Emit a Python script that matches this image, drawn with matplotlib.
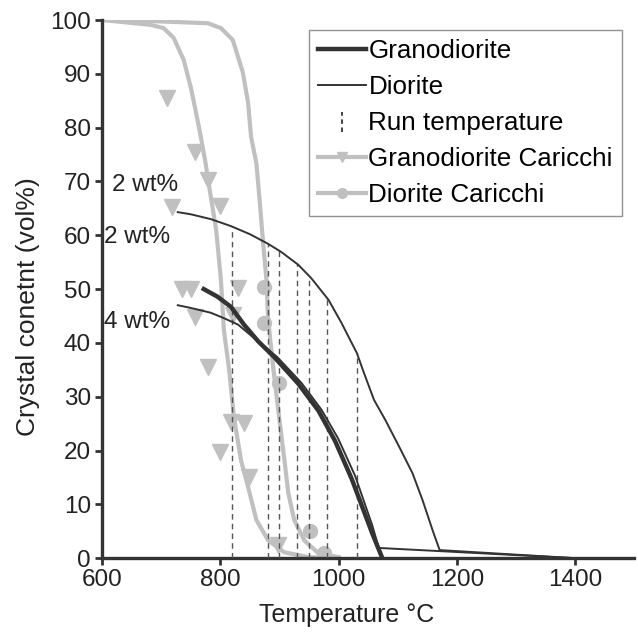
import numpy as np
import matplotlib
matplotlib.use("Agg")
import matplotlib.pyplot as plt
from matplotlib.lines import Line2D
from matplotlib.legend_handler import HandlerBase

# ---------------- data ----------------
grano_T = [772, 795, 818, 840, 864, 891, 932, 966, 994, 1022, 1057, 1074]
grano_C = [50.0, 48.6, 46.7, 43.4, 40.3, 37.4, 32.4, 27.4, 21.8, 14.8, 4.6, 0.0]

dior2_T = [728, 750, 784, 818, 850, 881, 903, 932, 954, 983, 1005, 1031, 1043,
           1060, 1079, 1103, 1125, 1142, 1159, 1171, 1400]
dior2_C = [64.3, 63.9, 63.0, 61.7, 60.2, 58.4, 56.9, 54.5, 52.0, 48.0, 43.7, 38.1, 34.4,
           29.4, 25.7, 20.6, 15.8, 10.8, 5.2, 1.5, 0.0]

dior4_T = [728, 750, 784, 806, 830, 857, 896, 937, 971, 999, 1028, 1057, 1068, 1400]
dior4_C = [47.0, 46.5, 45.6, 44.6, 43.4, 40.9, 37.4, 32.6, 27.6, 22.3, 15.3, 6.1, 1.9, 0.0]

run_T = [820, 881, 900, 930, 950, 981, 1031]

gc_T = [600, 682, 704, 721, 738, 750, 758, 767, 775, 784, 793, 801, 806, 815, 823,
        835, 847, 861, 881, 908, 949, 1000]
gc_C = [100, 99.1, 98.5, 96.7, 92.6, 87.5, 83.3, 78.3, 73.4, 67.1, 61.0, 51.7, 42.4, 34.9, 26.2,
        18.2, 13.2, 7.1, 3.3, 1.1, 0.2, 0.0]
gc_pts_T = [709, 758, 779, 799, 719, 736, 750, 830, 758, 821, 779, 818, 840, 799, 849, 898]
gc_pts_C = [85.5, 75.5, 70.3, 65.4, 65.2, 50.0, 50.0, 50.2, 44.8, 45.2, 35.5, 25.3, 25.1, 19.7, 15.1, 2.4]

dc_T = [600, 682, 779, 801, 821, 838, 847, 852, 861, 866, 873, 878, 881, 890, 898,
        907, 915, 925, 942, 966, 1000]
dc_C = [100, 99.8, 99.4, 98.5, 96.3, 90.3, 84.6, 78.3, 73.4, 67.1, 57.8, 51.7, 44.2, 34.9, 27.5,
        19.5, 12.1, 7.1, 3.3, 0.9, 0.2]
dc_pts_T = [874, 874, 900, 951, 975]
dc_pts_C = [50.4, 43.7, 32.5, 5.0, 0.9]

labels_txt = ["2 wt%", "2 wt%", "4 wt%"]
labels_T = [617, 603, 603]
labels_C = [69.3, 59.7, 43.9]

xticks = [600, 800, 1000, 1200, 1400]
yticks = [0, 10, 20, 30, 40, 50, 60, 70, 80, 90, 100]

# ---------------- style ----------------
DARK = "#333333"
GRAY = "#c0c0c0"
TXT = "#222222"
plt.rcParams['font.family'] = ['Liberation Sans', 'DejaVu Sans']
FS = 17.5
FS_LEG = 18.7

fig = plt.figure(figsize=(6.38, 6.35), dpi=100)
ax = fig.add_axes([0.16, 0.121, 0.834, 0.8475])

# Caricchi curves
ax.plot(gc_T, gc_C, color=GRAY, lw=3, zorder=2, solid_joinstyle='round')
ax.plot(dc_T, dc_C, color=GRAY, lw=3, zorder=2, solid_joinstyle='round')
ax.plot(gc_pts_T, gc_pts_C, linestyle='none', marker='v', ms=11, color=GRAY, zorder=2)
ax.plot(dc_pts_T, dc_pts_C, linestyle='none', marker='o', ms=10, color=GRAY, zorder=2)

# run temperatures (up to upper diorite curve)
for t in run_T:
    top = np.interp(t, dior2_T, dior2_C)
    ax.plot([t, t], [0, top], color="#555555", lw=1.0, ls=(0, (4, 3)), zorder=3)

# model curves
ax.plot(dior2_T, dior2_C, color=DARK, lw=1.4, zorder=4)
ax.plot(dior4_T, dior4_C, color=DARK, lw=1.4, zorder=4)
ax.plot(grano_T, grano_C, color=DARK, lw=3.2, zorder=5)

for s, t, c in zip(labels_txt, labels_T, labels_C):
    ax.text(t, c, s, fontsize=FS, color=TXT, va='center', ha='left', zorder=6)

ax.set_xlim(600, 1500)
ax.set_ylim(0, 100)
ax.set_xticks(xticks)
ax.set_yticks(yticks)
ax.spines['top'].set_visible(False)
ax.spines['right'].set_visible(False)
for sp in ['left', 'bottom']:
    ax.spines[sp].set_color(DARK)
    ax.spines[sp].set_linewidth(2.4)
ax.tick_params(axis='both', direction='out', length=5, width=2, color=DARK,
               labelsize=FS, labelcolor=TXT, pad=3)
ax.set_xlabel("Temperature °C", fontsize=18, color=TXT)
ax.set_ylabel("Crystal conetnt (vol%)", fontsize=19, color=TXT)
ax.xaxis.set_label_coords(0.459, -0.083)
ax.yaxis.set_label_coords(-0.116, 0.468)


class VDashHandler(HandlerBase):
    def create_artists(self, legend, orig_handle, xdescent, ydescent,
                       width, height, fontsize, trans):
        x = width / 2 - xdescent
        l = Line2D([x, x], [-ydescent - 0.1 * height, height * 1.0 - ydescent],
                   color=DARK, lw=1.3, ls=(0, (2.5, 2)), transform=trans)
        return [l]


h1 = Line2D([], [], color=DARK, lw=3.2)
h2 = Line2D([], [], color=DARK, lw=1.4)
h3 = object()
h4 = Line2D([], [], color=GRAY, lw=3, marker='v', ms=7)
h5 = Line2D([], [], color=GRAY, lw=3, marker='o', ms=7)
leg = ax.legend([h1, h2, h3, h4, h5],
                ["Granodiorite", "Diorite", "Run temperature",
                 "Granodiorite Caricchi", "Diorite Caricchi"],
                handler_map={h3: VDashHandler()},
                loc='upper right', bbox_to_anchor=(0.977, 0.981), borderaxespad=0,
                fontsize=FS_LEG, frameon=True, fancybox=False,
                handlelength=1.85, handletextpad=0.08, labelspacing=0.46,
                borderpad=0.35)
leg.get_frame().set_edgecolor("#777777")
leg.get_frame().set_linewidth(1.0)

fig.savefig("out.png", dpi=100)
